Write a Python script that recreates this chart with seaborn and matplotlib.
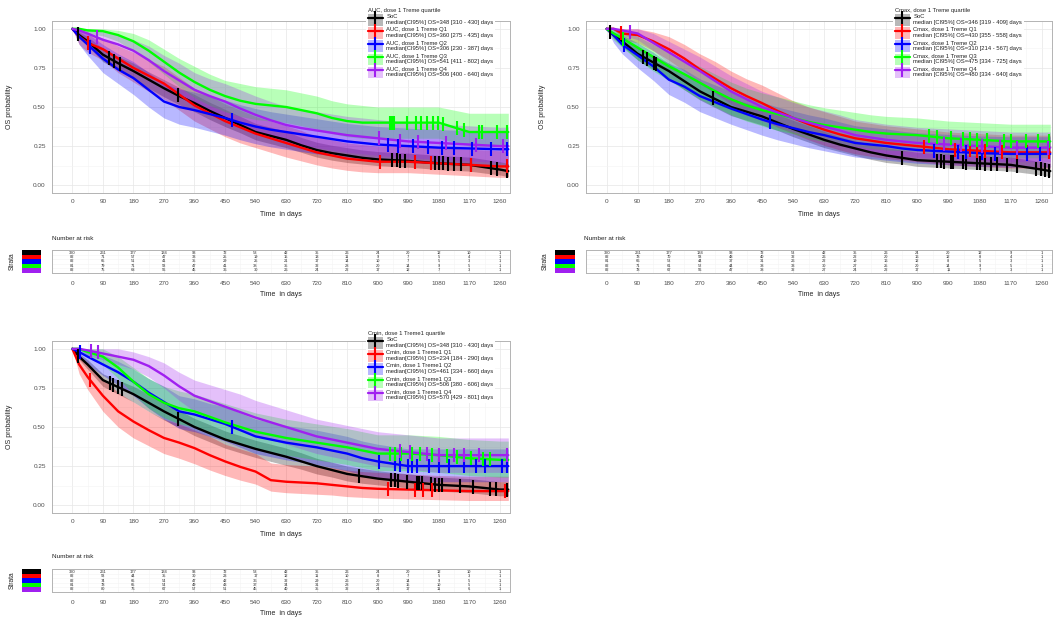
import numpy as np
import pandas as pd
import matplotlib
matplotlib.use("Agg")
import matplotlib.pyplot as plt
import seaborn as sns
from matplotlib.patches import Patch
from matplotlib.lines import Line2D

# ---------------- data ----------------
days = [0, 20, 45, 90, 135, 180, 225, 270, 315, 360, 405, 450, 495, 540, 585,
        630, 675, 720, 765, 810, 855, 900, 990, 1080, 1170, 1260, 1285]
risk_days = [0, 90, 180, 270, 360, 450, 540, 630, 720, 810, 900, 990, 1080, 1170, 1260]
strata_colors = ["#000000", "#FF0000", "#0000FF", "#00FF00", "#A020F0"]

# ---- Panel 1 : AUC ----
auc_soc_s = [1.0, 0.96, 0.92, 0.835, 0.78, 0.73, 0.675, 0.62, 0.57, 0.525, 0.475, 0.43, 0.385, 0.34, 0.315,
             0.29, 0.255, 0.225, 0.205, 0.19, 0.175, 0.165, 0.155, 0.14, 0.13, 0.10, 0.09]
auc_soc_lo = [1.0, 0.94, 0.89, 0.79, 0.735, 0.68, 0.62, 0.565, 0.515, 0.47, 0.42, 0.375, 0.335, 0.29, 0.265,
              0.24, 0.21, 0.18, 0.16, 0.145, 0.135, 0.125, 0.115, 0.10, 0.09, 0.065, 0.055]
auc_soc_hi = [1.0, 0.98, 0.95, 0.875, 0.825, 0.78, 0.725, 0.675, 0.625, 0.58, 0.53, 0.485, 0.44, 0.395, 0.37,
              0.345, 0.305, 0.275, 0.255, 0.24, 0.225, 0.215, 0.205, 0.19, 0.18, 0.15, 0.14]
auc_q1_s = [1.0, 0.95, 0.91, 0.87, 0.81, 0.75, 0.70, 0.65, 0.58, 0.51, 0.46, 0.41, 0.37, 0.33, 0.30,
            0.27, 0.24, 0.21, 0.19, 0.17, 0.16, 0.15, 0.15, 0.14, 0.13, 0.12, 0.12]
auc_q1_lo = [1.0, 0.90, 0.85, 0.80, 0.72, 0.66, 0.60, 0.55, 0.48, 0.41, 0.36, 0.31, 0.27, 0.24, 0.21,
             0.18, 0.155, 0.13, 0.11, 0.095, 0.085, 0.08, 0.08, 0.07, 0.06, 0.05, 0.05]
auc_q1_hi = [1.0, 1.0, 0.97, 0.94, 0.89, 0.85, 0.80, 0.76, 0.69, 0.62, 0.57, 0.52, 0.48, 0.44, 0.41,
             0.38, 0.35, 0.31, 0.29, 0.27, 0.26, 0.25, 0.25, 0.24, 0.23, 0.22, 0.22]
auc_q2_s = [1.0, 0.95, 0.90, 0.81, 0.74, 0.685, 0.61, 0.535, 0.50, 0.48, 0.455, 0.43, 0.40, 0.375, 0.355,
            0.34, 0.325, 0.31, 0.295, 0.28, 0.27, 0.26, 0.25, 0.24, 0.235, 0.23, 0.23]
auc_q2_lo = [1.0, 0.90, 0.83, 0.72, 0.65, 0.58, 0.50, 0.43, 0.39, 0.37, 0.345, 0.32, 0.29, 0.265, 0.245,
             0.23, 0.215, 0.20, 0.19, 0.175, 0.165, 0.155, 0.145, 0.135, 0.13, 0.125, 0.125]
auc_q2_hi = [1.0, 1.0, 0.97, 0.90, 0.84, 0.79, 0.72, 0.65, 0.615, 0.595, 0.57, 0.545, 0.515, 0.49, 0.47,
             0.455, 0.44, 0.425, 0.41, 0.395, 0.385, 0.375, 0.365, 0.355, 0.35, 0.345, 0.345]
auc_q3_s = [1.0, 1.0, 0.99, 0.985, 0.96, 0.92, 0.86, 0.79, 0.72, 0.66, 0.61, 0.57, 0.54, 0.52, 0.51,
            0.50, 0.48, 0.46, 0.43, 0.41, 0.40, 0.40, 0.40, 0.40, 0.34, 0.34, 0.34]
auc_q3_lo = [1.0, 1.0, 0.97, 0.955, 0.92, 0.86, 0.79, 0.71, 0.63, 0.56, 0.51, 0.47, 0.44, 0.42, 0.41,
             0.40, 0.38, 0.36, 0.33, 0.31, 0.30, 0.30, 0.30, 0.30, 0.25, 0.25, 0.25]
auc_q3_hi = [1.0, 1.0, 1.0, 1.0, 0.99, 0.97, 0.93, 0.87, 0.81, 0.76, 0.71, 0.67, 0.65, 0.63, 0.62,
             0.61, 0.59, 0.57, 0.54, 0.52, 0.51, 0.50, 0.50, 0.50, 0.46, 0.46, 0.46]
auc_q4_s = [1.0, 0.99, 0.97, 0.93, 0.90, 0.86, 0.80, 0.73, 0.67, 0.61, 0.57, 0.535, 0.49, 0.45, 0.415,
            0.385, 0.365, 0.35, 0.335, 0.32, 0.31, 0.30, 0.28, 0.27, 0.26, 0.25, 0.25]
auc_q4_lo = [1.0, 0.97, 0.93, 0.87, 0.83, 0.78, 0.71, 0.63, 0.57, 0.50, 0.46, 0.425, 0.38, 0.34, 0.305,
             0.275, 0.255, 0.24, 0.225, 0.21, 0.20, 0.19, 0.175, 0.165, 0.155, 0.145, 0.145]
auc_q4_hi = [1.0, 1.0, 1.0, 0.98, 0.96, 0.93, 0.89, 0.83, 0.78, 0.72, 0.68, 0.65, 0.61, 0.57, 0.535,
             0.505, 0.485, 0.47, 0.455, 0.44, 0.43, 0.42, 0.40, 0.39, 0.38, 0.37, 0.37]
auc_soc_cens = [16, 108, 123, 139, 311, 942, 956, 966, 981, 1068, 1082, 1092, 1106, 1126, 1145, 1174, 1233, 1252, 1280]
auc_q1_cens = [45, 908, 1010, 1058, 1174, 1280]
auc_q2_cens = [52, 470, 931, 961, 1004, 1047, 1091, 1126, 1178, 1233, 1280]
auc_q3_cens = [937, 942, 947, 985, 1014, 1029, 1044, 1063, 1077, 1092, 1135, 1155, 1199, 1208, 1252, 1280]
auc_q4_cens = [72, 905, 965, 1020, 1100, 1190, 1270]
auc_risk_soc = [320, 261, 177, 134, 93, 72, 53, 42, 35, 26, 24, 20, 12, 10, 1]
auc_risk_q1 = [82, 71, 57, 47, 33, 25, 19, 15, 13, 11, 9, 7, 5, 4, 1]
auc_risk_q2 = [82, 65, 51, 41, 35, 29, 25, 21, 17, 14, 10, 7, 5, 3, 1]
auc_risk_q3 = [81, 79, 71, 58, 47, 41, 38, 35, 32, 28, 20, 14, 9, 5, 1]
auc_risk_q4 = [82, 75, 68, 56, 45, 36, 30, 26, 24, 22, 17, 12, 7, 3, 1]
auc_title = "AUC, dose 1 Treme quartile"
auc_labels = ["SoC\nmedian[CI95%] OS=348 [310 - 430] days",
              "AUC, dose 1 Treme Q1\nmedian[CI95%] OS=360 [275 - 435] days",
              "AUC, dose 1 Treme Q2\nmedian[CI95%] OS=306 [230 - 387] days",
              "AUC, dose 1 Treme Q3\nmedian[CI95%] OS=541 [411 - 802] days",
              "AUC, dose 1 Treme Q4\nmedian[CI95%] OS=506 [400 - 640] days"]

# ---- Panel 2 : Cmax ----
cmax_soc_s = [1.0, 0.96, 0.92, 0.84, 0.785, 0.73, 0.665, 0.60, 0.55, 0.50, 0.47, 0.44, 0.40, 0.36, 0.325,
              0.29, 0.26, 0.235, 0.21, 0.19, 0.175, 0.16, 0.15, 0.14, 0.13, 0.10, 0.09]
cmax_soc_lo = [1.0, 0.94, 0.89, 0.80, 0.74, 0.68, 0.61, 0.545, 0.495, 0.445, 0.415, 0.385, 0.35, 0.31, 0.275,
               0.24, 0.215, 0.19, 0.165, 0.145, 0.135, 0.12, 0.11, 0.10, 0.09, 0.065, 0.055]
cmax_soc_hi = [1.0, 0.98, 0.95, 0.88, 0.83, 0.78, 0.715, 0.655, 0.605, 0.555, 0.525, 0.495, 0.455, 0.415, 0.38,
               0.345, 0.31, 0.285, 0.26, 0.24, 0.225, 0.21, 0.20, 0.19, 0.18, 0.15, 0.14]
cmax_q1_s = [1.0, 1.0, 0.97, 0.96, 0.92, 0.87, 0.81, 0.74, 0.68, 0.62, 0.57, 0.525, 0.475, 0.43, 0.39,
             0.355, 0.325, 0.30, 0.285, 0.27, 0.26, 0.25, 0.23, 0.22, 0.21, 0.21, 0.21]
cmax_q1_lo = [1.0, 1.0, 0.93, 0.91, 0.86, 0.80, 0.73, 0.65, 0.59, 0.52, 0.47, 0.42, 0.37, 0.33, 0.29,
              0.255, 0.225, 0.20, 0.185, 0.17, 0.16, 0.15, 0.13, 0.12, 0.11, 0.11, 0.11]
cmax_q1_hi = [1.0, 1.0, 1.0, 1.0, 0.98, 0.95, 0.90, 0.84, 0.79, 0.73, 0.68, 0.64, 0.59, 0.54, 0.50,
              0.47, 0.44, 0.41, 0.395, 0.38, 0.37, 0.36, 0.34, 0.33, 0.32, 0.32, 0.32]
cmax_q2_s = [1.0, 0.96, 0.90, 0.83, 0.76, 0.675, 0.63, 0.57, 0.53, 0.49, 0.455, 0.42, 0.39, 0.365, 0.34,
             0.32, 0.295, 0.27, 0.26, 0.25, 0.235, 0.225, 0.215, 0.205, 0.20, 0.20, 0.20]
cmax_q2_lo = [1.0, 0.91, 0.84, 0.75, 0.67, 0.58, 0.53, 0.47, 0.43, 0.39, 0.355, 0.32, 0.29, 0.265, 0.24,
              0.22, 0.20, 0.18, 0.17, 0.16, 0.15, 0.14, 0.13, 0.12, 0.115, 0.115, 0.115]
cmax_q2_hi = [1.0, 1.0, 0.96, 0.91, 0.85, 0.78, 0.74, 0.68, 0.64, 0.60, 0.565, 0.53, 0.50, 0.475, 0.45,
              0.43, 0.405, 0.38, 0.37, 0.36, 0.345, 0.335, 0.325, 0.315, 0.31, 0.31, 0.31]
cmax_q3_s = [1.0, 0.97, 0.94, 0.88, 0.82, 0.76, 0.71, 0.655, 0.60, 0.55, 0.51, 0.48, 0.455, 0.43, 0.405,
             0.385, 0.37, 0.355, 0.34, 0.33, 0.325, 0.32, 0.30, 0.29, 0.28, 0.28, 0.28]
cmax_q3_lo = [1.0, 0.93, 0.88, 0.80, 0.73, 0.67, 0.61, 0.55, 0.50, 0.45, 0.41, 0.38, 0.35, 0.33, 0.30,
              0.28, 0.265, 0.25, 0.235, 0.225, 0.22, 0.215, 0.195, 0.185, 0.175, 0.175, 0.175]
cmax_q3_hi = [1.0, 1.0, 0.99, 0.95, 0.90, 0.85, 0.80, 0.76, 0.71, 0.66, 0.62, 0.59, 0.565, 0.54, 0.515,
              0.495, 0.48, 0.465, 0.45, 0.44, 0.435, 0.43, 0.41, 0.40, 0.39, 0.39, 0.39]
cmax_q4_s = [1.0, 1.0, 0.99, 0.97, 0.91, 0.85, 0.79, 0.73, 0.665, 0.60, 0.55, 0.50, 0.465, 0.43, 0.40,
             0.375, 0.35, 0.32, 0.305, 0.29, 0.28, 0.27, 0.26, 0.25, 0.24, 0.24, 0.24]
cmax_q4_lo = [1.0, 1.0, 0.96, 0.93, 0.86, 0.78, 0.72, 0.65, 0.58, 0.51, 0.46, 0.41, 0.375, 0.34, 0.31,
              0.285, 0.26, 0.23, 0.215, 0.20, 0.19, 0.18, 0.17, 0.16, 0.15, 0.15, 0.15]
cmax_q4_hi = [1.0, 1.0, 1.0, 1.0, 0.97, 0.92, 0.87, 0.82, 0.76, 0.70, 0.65, 0.60, 0.565, 0.53, 0.50,
              0.475, 0.45, 0.42, 0.405, 0.39, 0.38, 0.37, 0.36, 0.35, 0.34, 0.34, 0.34]
cmax_soc_cens = [10, 106, 116, 136, 144, 308, 855, 958, 968, 978, 998, 1003, 1032, 1042, 1072, 1081, 1096,
                 1112, 1131, 1160, 1190, 1244, 1259, 1269, 1280]
cmax_q1_cens = [42, 919, 1008, 1052, 1072, 1096, 1146, 1190, 1219, 1280]
cmax_q2_cens = [49, 473, 949, 1018, 1042, 1086, 1126, 1219, 1254]
cmax_q3_cens = [47, 934, 958, 998, 1032, 1052, 1072, 1101, 1150, 1170, 1214, 1249, 1280]
cmax_q4_cens = [67, 978, 1027, 1086, 1140, 1190, 1278]
cmax_risk_soc = [320, 261, 177, 134, 93, 72, 53, 42, 35, 26, 24, 20, 12, 9, 1]
cmax_risk_q1 = [82, 78, 70, 58, 48, 40, 32, 26, 22, 20, 16, 12, 8, 4, 1]
cmax_risk_q2 = [81, 66, 53, 44, 37, 31, 26, 22, 19, 16, 12, 8, 5, 3, 1]
cmax_risk_q3 = [82, 71, 61, 52, 44, 38, 33, 30, 27, 25, 20, 14, 9, 5, 1]
cmax_risk_q4 = [82, 78, 67, 56, 47, 38, 32, 27, 24, 22, 17, 11, 7, 3, 1]
cmax_title = "Cmax, dose 1 Treme quartile"
cmax_labels = ["SoC\nmedian [CI95%] OS=346 [319 - 409] days",
               "Cmax, dose 1 Treme Q1\nmedian [CI95%] OS=430 [355 - 558] days",
               "Cmax, dose 1 Treme Q2\nmedian [CI95%] OS=310 [214 - 567] days",
               "Cmax, dose 1 Treme Q3\nmedian [CI95%] OS=475 [334 - 725] days",
               "Cmax, dose 1 Treme Q4\nmedian [CI95%] OS=480 [334 - 640] days"]

# ---- Panel 3 : Cmin ----
cmin_soc_s = [1.0, 0.95, 0.90, 0.80, 0.755, 0.71, 0.655, 0.60, 0.55, 0.50, 0.46, 0.42, 0.39, 0.36, 0.335,
              0.31, 0.28, 0.25, 0.225, 0.20, 0.185, 0.17, 0.15, 0.13, 0.12, 0.10, 0.10]
cmin_soc_lo = [1.0, 0.93, 0.87, 0.76, 0.71, 0.66, 0.60, 0.545, 0.495, 0.445, 0.405, 0.365, 0.335, 0.305, 0.28,
               0.255, 0.23, 0.20, 0.18, 0.155, 0.14, 0.13, 0.11, 0.09, 0.08, 0.06, 0.06]
cmin_soc_hi = [1.0, 0.97, 0.93, 0.84, 0.80, 0.76, 0.71, 0.655, 0.605, 0.555, 0.515, 0.475, 0.445, 0.415, 0.39,
               0.365, 0.335, 0.30, 0.275, 0.25, 0.235, 0.22, 0.20, 0.18, 0.17, 0.15, 0.15]
cmin_q1_s = [1.0, 0.90, 0.82, 0.70, 0.60, 0.535, 0.48, 0.43, 0.40, 0.365, 0.32, 0.28, 0.245, 0.215, 0.16,
             0.15, 0.145, 0.14, 0.13, 0.12, 0.11, 0.105, 0.10, 0.095, 0.09, 0.09, 0.09]
cmin_q1_lo = [1.0, 0.84, 0.74, 0.60, 0.50, 0.43, 0.38, 0.33, 0.30, 0.265, 0.225, 0.19, 0.16, 0.135, 0.09,
              0.08, 0.075, 0.07, 0.065, 0.055, 0.05, 0.045, 0.04, 0.035, 0.03, 0.03, 0.03]
cmin_q1_hi = [1.0, 0.96, 0.91, 0.81, 0.72, 0.66, 0.60, 0.55, 0.52, 0.48, 0.44, 0.39, 0.36, 0.33, 0.27,
              0.26, 0.255, 0.25, 0.24, 0.225, 0.215, 0.21, 0.20, 0.19, 0.185, 0.185, 0.185]
cmin_q2_s = [1.0, 0.98, 0.95, 0.90, 0.85, 0.79, 0.72, 0.66, 0.60, 0.58, 0.55, 0.52, 0.48, 0.44, 0.42,
             0.40, 0.385, 0.37, 0.35, 0.33, 0.30, 0.28, 0.25, 0.25, 0.25, 0.25, 0.25]
cmin_q2_lo = [1.0, 0.95, 0.90, 0.83, 0.77, 0.70, 0.62, 0.55, 0.49, 0.47, 0.44, 0.41, 0.37, 0.33, 0.31,
              0.29, 0.275, 0.26, 0.24, 0.22, 0.195, 0.175, 0.15, 0.15, 0.15, 0.15, 0.15]
cmin_q2_hi = [1.0, 1.0, 1.0, 0.96, 0.92, 0.87, 0.81, 0.76, 0.70, 0.68, 0.65, 0.63, 0.59, 0.55, 0.53,
              0.51, 0.495, 0.48, 0.46, 0.44, 0.41, 0.39, 0.36, 0.36, 0.36, 0.36, 0.36]
cmin_q3_s = [1.0, 1.0, 0.98, 0.95, 0.88, 0.79, 0.71, 0.655, 0.62, 0.60, 0.565, 0.53, 0.50, 0.47, 0.45,
             0.43, 0.415, 0.40, 0.385, 0.37, 0.35, 0.33, 0.33, 0.32, 0.30, 0.29, 0.29]
cmin_q3_lo = [1.0, 1.0, 0.95, 0.90, 0.81, 0.71, 0.62, 0.56, 0.52, 0.50, 0.46, 0.42, 0.39, 0.36, 0.34,
              0.32, 0.305, 0.29, 0.275, 0.26, 0.24, 0.22, 0.22, 0.21, 0.19, 0.18, 0.18]
cmin_q3_hi = [1.0, 1.0, 1.0, 1.0, 0.95, 0.88, 0.81, 0.76, 0.73, 0.71, 0.68, 0.65, 0.62, 0.59, 0.57,
              0.55, 0.535, 0.52, 0.505, 0.49, 0.47, 0.45, 0.45, 0.44, 0.42, 0.41, 0.41]
cmin_q4_s = [1.0, 1.0, 0.99, 0.97, 0.95, 0.93, 0.89, 0.83, 0.76, 0.70, 0.665, 0.63, 0.595, 0.56, 0.53,
             0.50, 0.47, 0.44, 0.42, 0.40, 0.38, 0.36, 0.34, 0.32, 0.32, 0.32, 0.32]
cmin_q4_lo = [1.0, 1.0, 0.96, 0.93, 0.90, 0.87, 0.82, 0.75, 0.67, 0.60, 0.56, 0.53, 0.49, 0.45, 0.42,
              0.39, 0.36, 0.33, 0.31, 0.29, 0.27, 0.25, 0.23, 0.21, 0.21, 0.21, 0.21]
cmin_q4_hi = [1.0, 1.0, 1.0, 1.0, 1.0, 0.98, 0.95, 0.91, 0.85, 0.80, 0.77, 0.74, 0.71, 0.67, 0.64,
              0.61, 0.58, 0.55, 0.53, 0.51, 0.49, 0.47, 0.45, 0.43, 0.43, 0.43, 0.43]
cmin_soc_cens = [18, 110, 120, 135, 145, 312, 845, 940, 950, 960, 985, 1015, 1022, 1030, 1058, 1070, 1080,
                 1090, 1142, 1180, 1230, 1250, 1280]
cmin_q1_cens = [52, 930, 1010, 1035, 1060, 1275]
cmin_q2_cens = [22, 470, 905, 950, 965, 990, 1000, 1015, 1050, 1080, 1110, 1155, 1190, 1215, 1265, 1280]
cmin_q3_cens = [935, 950, 970, 1000, 1025, 1060, 1105, 1135, 1175, 1210, 1230]
cmin_q4_cens = [55, 75, 965, 995, 1045, 1080, 1125, 1155, 1200, 1280]
cmin_risk_soc = [320, 261, 177, 134, 93, 72, 53, 42, 35, 26, 24, 20, 12, 10, 1]
cmin_risk_q1 = [82, 58, 44, 35, 30, 23, 17, 12, 11, 10, 8, 7, 5, 3, 1]
cmin_risk_q2 = [82, 74, 65, 54, 47, 42, 36, 32, 29, 26, 20, 14, 9, 5, 1]
cmin_risk_q3 = [81, 78, 65, 54, 49, 43, 37, 34, 31, 28, 22, 15, 10, 5, 1]
cmin_risk_q4 = [82, 80, 76, 67, 57, 51, 45, 40, 35, 32, 24, 17, 11, 6, 1]
cmin_title = "Cmin, dose 1 Treme1 quartile"
cmin_labels = ["SoC\nmedian[CI95%] OS=348 [310 - 430] days",
               "Cmin, dose 1 Treme1 Q1\nmedian[CI95%] OS=234 [184 - 290] days",
               "Cmin, dose 1 Treme1 Q2\nmedian[CI95%] OS=461 [334 - 660] days",
               "Cmin, dose 1 Treme1 Q3\nmedian[CI95%] OS=506 [380 - 606] days",
               "Cmin, dose 1 Treme1 Q4\nmedian[CI95%] OS=570 [429 - 801] days"]

# ---------------- style ----------------
sns.set_theme(style="whitegrid")
plt.rcParams["font.family"] = ["Liberation Sans", "DejaVu Sans"]
TXT = "#4D4D4D"
GRID = "#E6E6E6"
GRID_MINOR = "#F3F3F3"
EDGE = "#B3B3B3"

W, H = 1053, 618
fig = plt.figure(figsize=(W / 100, H / 100), dpi=100)
fig.patch.set_facecolor("white")


def rect(left, top, right, bottom):
    return [left / W, 1 - bottom / H, (right - left) / W, (bottom - top) / H]


XLIM = (-60, 1290)
XT = list(range(0, 1261, 90))
XT_MINOR = list(range(45, 1300, 90))


def style_axes(ax):
    ax.set_facecolor("white")
    for sp in ax.spines.values():
        sp.set_color(EDGE)
        sp.set_linewidth(0.7)
    ax.tick_params(axis="both", which="major", length=2, width=0.5, color=EDGE,
                   labelsize=4.6, labelcolor=TXT, pad=2.5)
    ax.tick_params(axis="both", which="minor", length=0)


def draw_panel(main_box, risk_box, block_box, label_x, nar_xy, legend_xy,
               curves, censors, risks, labels, title):
    ax = fig.add_axes(rect(*main_box))
    style_axes(ax)
    frames = []
    for i, (s, lo, hi) in enumerate(curves):
        ax.fill_between(days, lo, hi, color=strata_colors[i], alpha=0.28, lw=0, zorder=1)
        frames.append(pd.DataFrame({"time": days, "surv": s, "strata": labels[i]}))
    df = pd.concat(frames, ignore_index=True)
    sns.lineplot(data=df, x="time", y="surv", hue="strata", hue_order=labels,
                 palette=strata_colors, estimator=None, sort=False, linewidth=1.7,
                 legend=False, ax=ax, zorder=3)
    for i, ct in enumerate(censors):
        cy = np.interp(ct, days, curves[i][0])
        ax.plot(ct, cy, ls="none", marker="|", ms=10, mew=1.5, color=strata_colors[i], zorder=4)
    ax.set_xlim(*XLIM)
    ax.set_ylim(-0.05, 1.05)
    ax.set_xticks(XT)
    ax.set_xticks(XT_MINOR, minor=True)
    ax.set_yticks([0, 0.25, 0.5, 0.75, 1.0])
    ax.set_yticks([0.125, 0.375, 0.625, 0.875], minor=True)
    ax.set_yticklabels(["0.00", "0.25", "0.50", "0.75", "1.00"])
    ax.grid(True, which="major", color=GRID, lw=0.5)
    ax.grid(True, which="minor", color=GRID_MINOR, lw=0.4)
    ax.set_xlabel("Time  in days", fontsize=5, color="#222222")
    ax.set_ylabel("OS probability", fontsize=5, color="#222222")
    ax.xaxis.set_label_coords(0.5, -0.105)
    ax.yaxis.set_label_coords((label_x - main_box[0]) / (main_box[2] - main_box[0]), 0.5)

    handles = [(Patch(facecolor=c, alpha=0.28, edgecolor="none"),
                Line2D([], [], color=c, lw=1.6, marker="|", ms=10, mew=1.5)) for c in strata_colors]
    leg = fig.legend(handles, labels, title=title, loc="upper left",
                     bbox_to_anchor=(legend_xy[0] / W, 1 - legend_xy[1] / H),
                     fontsize=4.2, title_fontsize=4.2, numpoints=1,
                     handlelength=2.6, handleheight=2.6, labelspacing=0.3,
                     handletextpad=0.6, borderpad=0.3, frameon=True,
                     facecolor="white", edgecolor="none", framealpha=1)
    leg._legend_box.align = "left"
    for t in leg.get_texts():
        t.set_color("#222222")

    # risk table
    rax = fig.add_axes(rect(*risk_box))
    style_axes(rax)
    rax.set_xlim(*XLIM)
    rax.set_ylim(4.6, -0.6)
    rax.set_xticks(XT)
    rax.set_xticks(XT_MINOR, minor=True)
    rax.set_yticks([])
    rax.set_yticks([0.5, 1.5, 2.5, 3.5], minor=True)
    rax.grid(True, which="major", axis="x", color=GRID, lw=0.5)
    rax.grid(True, which="minor", color=GRID_MINOR, lw=0.4)
    rax.tick_params(axis="x", pad=4)
    for r, row in enumerate(risks):
        for t, n in zip(risk_days, row):
            rax.text(t, r, str(n), ha="center", va="center", fontsize=2.9, color="#333333")
    rax.set_xlabel("Time  in days", fontsize=5, color="#222222")
    rax.xaxis.set_label_coords(0.5, -0.78)
    fig.text(nar_xy[0] / W, 1 - nar_xy[1] / H, "Number at risk", fontsize=4.6,
             color="#222222", ha="left", va="center")

    # strata colour block
    bax = fig.add_axes(rect(*block_box))
    bax.barh(range(5), [1] * 5, height=1.0, color=strata_colors, edgecolor="none")
    bax.set_ylim(4.5, -0.5)
    bax.set_xlim(0, 1)
    bax.axis("off")
    fig.text((block_box[0] - 10) / W, 1 - ((block_box[1] + block_box[3]) / 2) / H, "Strata",
             rotation=90, fontsize=4.8, color="#222222", ha="center", va="center")


draw_panel((52, 21, 510, 193), (52, 250, 510, 273), (22, 250, 41, 273), 13, (52, 238), (363, 3),
           [(auc_soc_s, auc_soc_lo, auc_soc_hi), (auc_q1_s, auc_q1_lo, auc_q1_hi),
            (auc_q2_s, auc_q2_lo, auc_q2_hi), (auc_q3_s, auc_q3_lo, auc_q3_hi),
            (auc_q4_s, auc_q4_lo, auc_q4_hi)],
           [auc_soc_cens, auc_q1_cens, auc_q2_cens, auc_q3_cens, auc_q4_cens],
           [auc_risk_soc, auc_risk_q1, auc_risk_q2, auc_risk_q3, auc_risk_q4],
           auc_labels, auc_title)

draw_panel((586, 21, 1052, 193), (586, 250, 1052, 273), (555, 250, 575, 273), 546, (584, 238), (890, 3),
           [(cmax_soc_s, cmax_soc_lo, cmax_soc_hi), (cmax_q1_s, cmax_q1_lo, cmax_q1_hi),
            (cmax_q2_s, cmax_q2_lo, cmax_q2_hi), (cmax_q3_s, cmax_q3_lo, cmax_q3_hi),
            (cmax_q4_s, cmax_q4_lo, cmax_q4_hi)],
           [cmax_soc_cens, cmax_q1_cens, cmax_q2_cens, cmax_q3_cens, cmax_q4_cens],
           [cmax_risk_soc, cmax_risk_q1, cmax_risk_q2, cmax_risk_q3, cmax_risk_q4],
           cmax_labels, cmax_title)

draw_panel((52, 341, 510, 513), (52, 569, 510, 592), (22, 569, 41, 592), 13, (52, 557), (363, 326),
           [(cmin_soc_s, cmin_soc_lo, cmin_soc_hi), (cmin_q1_s, cmin_q1_lo, cmin_q1_hi),
            (cmin_q2_s, cmin_q2_lo, cmin_q2_hi), (cmin_q3_s, cmin_q3_lo, cmin_q3_hi),
            (cmin_q4_s, cmin_q4_lo, cmin_q4_hi)],
           [cmin_soc_cens, cmin_q1_cens, cmin_q2_cens, cmin_q3_cens, cmin_q4_cens],
           [cmin_risk_soc, cmin_risk_q1, cmin_risk_q2, cmin_risk_q3, cmin_risk_q4],
           cmin_labels, cmin_title)

fig.savefig("out.png", dpi=100, facecolor="white")
